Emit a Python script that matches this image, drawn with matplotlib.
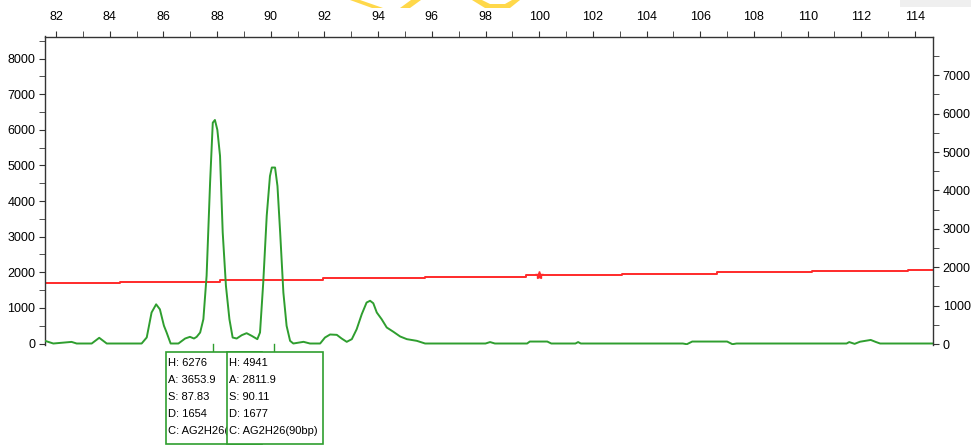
import matplotlib
matplotlib.use("Agg")
import matplotlib.pyplot as plt
from matplotlib.patches import Rectangle, Polygon
from matplotlib.ticker import MultipleLocator, FixedLocator
import matplotlib.transforms as mtransforms

plt.rcParams['font.family'] = ['Liberation Sans', 'DejaVu Sans']

# 데이터: 녹색 피크 (bp, RFU)
green_bp = [81.59, 81.90, 82.58, 82.77, 83.33, 83.61, 83.89, 85.19, 85.38, 85.56,
            85.73, 85.87, 86.02, 86.12, 86.27, 86.56, 86.81, 86.99, 87.14, 87.24,
            87.37, 87.49, 87.61, 87.74, 87.84, 87.92, 88.01, 88.11, 88.21, 88.33,
            88.46, 88.58, 88.73, 88.92, 89.10, 89.29, 89.50, 89.60, 89.72, 89.85,
            89.97, 90.04, 90.16, 90.25, 90.35, 90.47, 90.59, 90.72, 90.84, 91.22,
            91.46, 91.84, 92.02, 92.21, 92.46, 92.64, 92.83, 93.02, 93.20, 93.39,
            93.57, 93.70, 93.82, 93.95, 94.13, 94.32, 94.57, 94.82, 95.07, 95.44,
            95.75, 98.00, 98.17, 98.35, 99.55, 99.65, 100.30, 100.45, 101.35, 101.45,
            101.55, 105.35, 105.50, 105.70, 107.00, 107.20, 107.35, 111.45, 111.55, 111.75,
            111.95, 112.35, 112.55, 112.70, 114.67]
green_rfu = [75, 0, 45, 0, 0, 160, 0, 0, 170, 870,
             1100, 960, 500, 310, 0, 0, 140, 187, 140, 187,
             309, 683, 1900, 4520, 6200, 6276, 6000, 5270, 3120, 1620,
             683, 168, 140, 234, 290, 215, 122, 309, 1710, 3590,
             4700, 4941, 4941, 4420, 3120, 1430, 496, 75, 0, 47,
             0, 0, 168, 253, 243, 140, 47, 122, 400, 823,
             1150, 1200, 1130, 870, 683, 450, 328, 197, 122, 75,
             0, 0, 40, 0, 0, 55, 55, 0, 0, 40,
             0, 0, -20, 55, 55, -20, 0, 0, 40, -10,
             50, 100, 40, 0, 0]

# 빨간 선 (계단형)
red_bp = [81.59, 84.38, 88.11, 91.95, 95.75, 99.51, 103.09, 106.63, 110.17, 113.74, 114.67]
red_val = [1708, 1736, 1784, 1831, 1876, 1924, 1952, 2000, 2037, 2073, 2073]
red_mark_bp = [100.0]
red_mark_val = [1924]

# 피크 정보 박스
peak_pos = [87.83, 90.11]
box1_lines = ["H: 6276", "A: 3653.9", "S: 87.83", "D: 1654", "C: AG2H26(90bp)"]
box2_lines = ["H: 4941", "A: 2811.9", "S: 90.11", "D: 1677", "C: AG2H26(90bp)"]

W, H = 971, 446
fig = plt.figure(figsize=(W / 100, H / 100), dpi=100)
ax = fig.add_axes([45 / W, 1 - 345 / H, (933 - 45) / W, (345 - 36.5) / H])
ax2 = ax.twinx()

green = '#2f9e2f'
ax.plot(green_bp, green_rfu, color=green, lw=1.4, zorder=3)
ax.step(red_bp, red_val, where='post', color='#ff2a2a', lw=1.4, zorder=2)
ax.plot(red_mark_bp, red_mark_val, marker='*', color='#ff2a2a', ms=6, lw=0)

ax.set_xlim(81.59, 114.67)
ax.set_ylim(-42, 8620)
ax2.set_ylim(-26, 8010)

ax.xaxis.set_major_locator(MultipleLocator(2))
ax.xaxis.set_minor_locator(MultipleLocator(1))
ax.yaxis.set_major_locator(MultipleLocator(1000))
ax.yaxis.set_minor_locator(MultipleLocator(500))
ax2.yaxis.set_major_locator(FixedLocator(range(0, 8000, 1000)))
ax2.yaxis.set_minor_locator(FixedLocator(range(500, 8000, 1000)))

spine_c = '#333333'
for a in (ax, ax2):
    a.spines['bottom'].set_visible(False)
    for s in a.spines.values():
        s.set_color(spine_c)
        s.set_linewidth(1)
ax.spines['right'].set_visible(False)
ax2.spines['top'].set_visible(False)
ax2.spines['left'].set_visible(False)

ax.tick_params(axis='x', which='both', top=True, bottom=False, labeltop=True,
               labelbottom=False, direction='out', length=4, color=spine_c,
               labelsize=9, pad=6)
ax.tick_params(axis='y', which='both', direction='out', length=4, color=spine_c,
               labelsize=9, pad=3)
ax2.tick_params(axis='y', which='both', direction='out', length=4, color=spine_c,
                labelsize=9, pad=3)

# 피크 표시 세로선
trans = mtransforms.blended_transform_factory(ax.transData, ax.transAxes)
for p in peak_pos:
    ax.plot([p, p], [0.003, -0.022], transform=trans, color=green, lw=1, clip_on=False)


def fx(px):
    return px / W


def fy(py):
    return 1 - py / H


# 정보 박스 두 개 (두 번째가 첫 번째를 덮음)
box_x = [166, 227]
for i, (x0, lines) in enumerate(zip(box_x, [box1_lines, box2_lines])):
    z = 5 + 2 * i
    fig.patches.append(Rectangle((fx(x0), fy(444)), 96 / W, (444 - 351.7) / H,
                                 transform=fig.transFigure, facecolor='white',
                                 edgecolor=green, lw=1.2, zorder=z))
    # 첫 번째 박스 글자는 두 번째 박스 왼쪽 경계에서 잘림
    right = box_x[1] if i == 0 else x0 + 96
    clip = Rectangle((fx(x0), fy(444)), (right - x0) / W, (444 - 351.7) / H,
                     transform=fig.transFigure)
    for j, t in enumerate(lines):
        txt = fig.text(fx(x0 + 2), fy(363 + 17 * j), t, fontsize=8, va='center',
                       ha='left', zorder=z + 1)
        txt.set_clip_path(clip)

# 우측 상단 회색 영역
fig.patches.append(Rectangle((fx(900), fy(7)), 71 / W, 7 / H,
                             transform=fig.transFigure, facecolor='#efefef',
                             edgecolor='none', zorder=0))

# 상단 워터마크 조각
gold = '#ffd84a'
for pts in [[(350, 0), (360, 0), (383, 8), (372, 8)],
            [(400, 8), (410, 8), (421, 0), (411, 0)],
            [(472, 0), (482, 0), (490, 4), (505, 4), (512, 0), (520, 0), (510, 8), (485, 8)]]:
    fig.patches.append(Polygon([(fx(a), fy(b)) for a, b in pts], closed=True,
                               transform=fig.transFigure, facecolor=gold,
                               edgecolor='none', zorder=0))

fig.savefig('out.png', dpi=100)
